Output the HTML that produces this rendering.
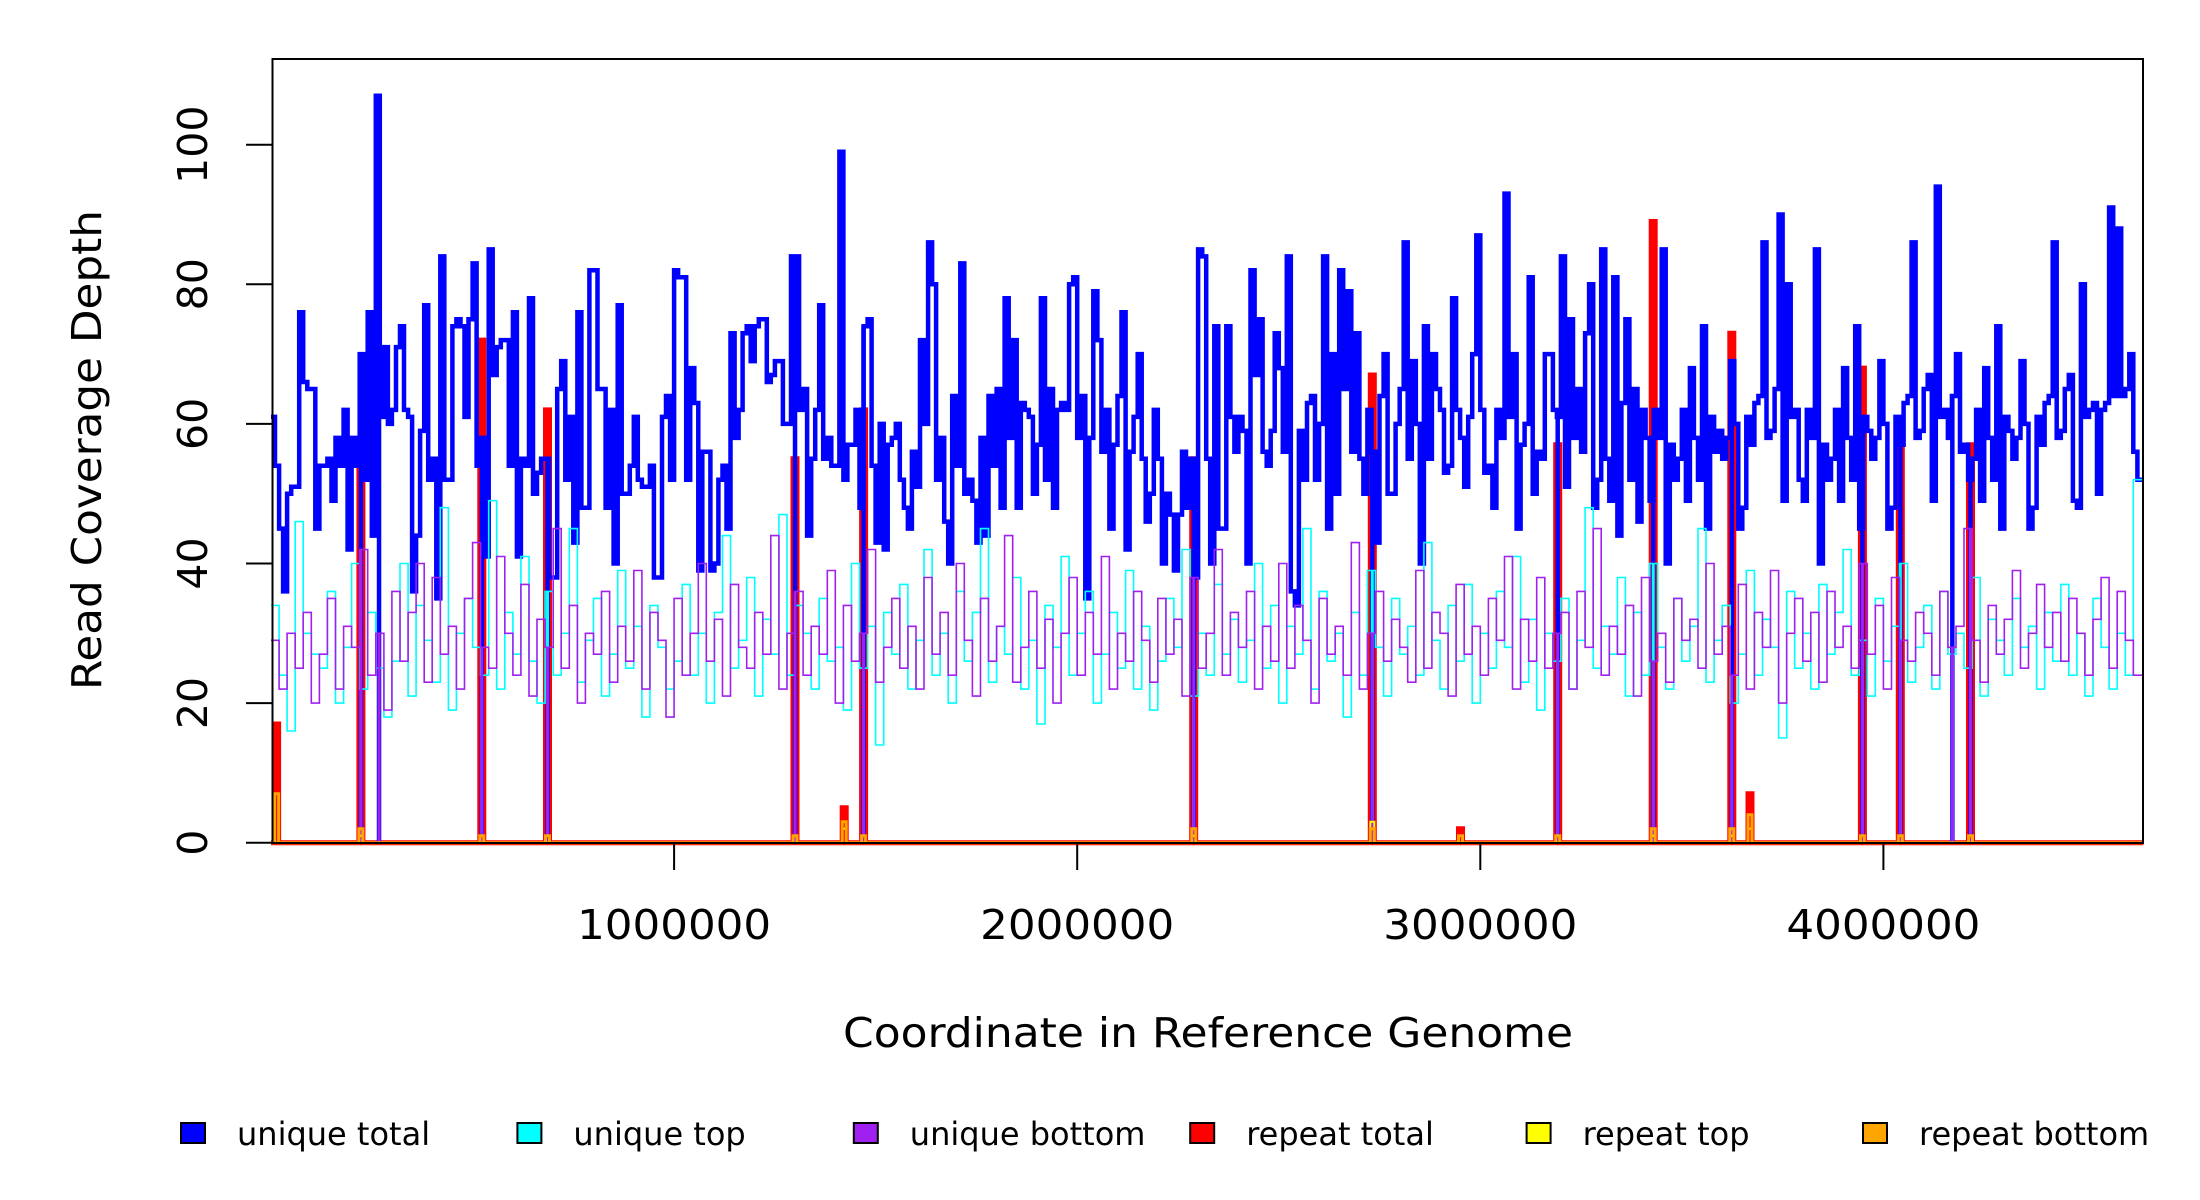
<!DOCTYPE html>
<html><head><meta charset="utf-8"><style>
html,body{margin:0;padding:0;background:#fff}
svg{display:block;font-family:"DejaVu Sans","Liberation Sans",sans-serif}
</style></head><body>
<svg id="chart" width="2200" height="1200" viewBox="0 0 2200 1200" xmlns="http://www.w3.org/2000/svg">
<rect x="0" y="0" width="2200" height="1200" fill="#fff"/>
<g id="series"></g>
<rect x="272.5" y="59" width="1870.5" height="784" fill="none" stroke="#000" stroke-width="2"/>
<g id="axes"></g>
<text transform="translate(101,450) rotate(-90)" text-anchor="middle" font-size="41" textLength="480" lengthAdjust="spacingAndGlyphs">Read Coverage Depth</text>
<text x="1208" y="1047" text-anchor="middle" font-size="41" textLength="730" lengthAdjust="spacingAndGlyphs">Coordinate in Reference Genome</text>
<g id="legend"></g>
</svg>
<script>
const NS="http://www.w3.org/2000/svg";
const totalBin=10000;
const strandBin=20000;
const genomeLen=4645000;
const uniqueTotal=[61,54,45,36,50,51,51,76,66,65,65,45,54,54,55,49,58,54,62,42,
58,54,70,52,76,44,107,61,71,60,62,71,74,62,61,36,44,59,77,52,
55,35,84,52,52,74,75,74,61,75,83,54,58,41,85,67,71,72,72,54,
76,41,55,54,78,50,53,55,55,38,38,65,69,52,61,43,76,48,48,82,
82,65,65,48,62,40,77,50,50,54,61,52,51,51,54,38,38,61,64,52,
82,81,81,52,68,63,39,56,56,39,40,52,54,45,73,58,62,73,74,69,
74,75,75,66,67,69,69,60,60,84,84,62,65,44,55,62,77,55,58,54,
54,99,52,57,57,62,48,74,75,54,43,60,42,57,58,60,52,48,45,56,
51,72,60,86,80,52,58,46,40,64,54,83,50,52,49,43,58,44,64,54,
65,48,78,58,72,48,63,62,61,50,57,78,52,65,48,62,63,62,80,81,
58,64,35,58,79,72,56,62,45,57,64,76,42,56,61,70,55,46,50,62,
55,40,50,47,39,47,56,48,55,38,85,84,55,40,74,45,45,74,61,56,
61,59,40,82,67,75,56,54,59,73,68,56,84,36,34,59,52,63,64,52,
60,84,45,70,50,82,65,79,56,73,55,50,62,56,43,64,70,50,50,60,
65,86,55,69,60,40,74,55,70,65,62,53,54,78,62,58,51,61,70,87,
62,53,54,48,62,58,93,61,70,45,57,60,81,50,56,55,70,70,62,61,
84,51,75,58,65,56,73,80,48,52,85,55,49,81,44,63,75,52,65,46,
62,58,49,62,58,85,40,57,52,55,62,49,68,58,52,74,45,61,56,59,
55,58,69,60,45,48,61,57,63,64,86,58,59,65,90,49,80,61,62,52,
49,62,58,85,40,57,52,55,62,49,68,58,52,74,45,61,59,55,58,69,
60,45,48,61,57,63,64,86,58,59,65,67,49,94,61,62,58,64,70,56,
57,52,55,62,49,68,58,52,74,45,61,59,55,58,69,60,45,48,61,57,
63,64,86,58,59,65,67,49,48,80,61,62,63,50,62,63,91,64,88,64,
65,70,56,52];
const uniqueTop=[34,24,16,46,30,27,25,36,20,28,40,22,33,25,18,26,40,21,34,29,
23,48,19,30,35,28,24,49,22,33,27,41,26,20,36,24,30,45,23,29,
35,21,27,39,25,31,18,34,28,22,26,37,24,30,20,33,44,25,29,38,
21,32,27,47,24,34,30,22,35,26,28,19,40,25,31,14,33,27,37,22,
29,42,24,30,20,36,26,33,45,23,31,27,38,22,29,17,34,28,41,24,
30,36,20,27,33,25,39,22,31,19,26,35,28,42,21,30,24,37,27,32,
23,29,40,25,34,20,31,27,45,22,36,26,30,18,33,24,39,28,21,35,
27,31,24,43,29,22,34,26,37,20,30,25,36,28,41,23,32,19,30,26,
35,22,29,48,25,31,27,38,21,33,24,40,28,22,35,26,31,45,23,29,
34,20,27,39,24,32,28,15,36,25,30,22,37,27,33,42,24,29,21,35,
26,31,40,23,28,34,22,36,27,30,25,38,21,32,29,24,35,28,31,22,
33,26,37,24,30,21,35,28,22,30,24,52];
const uniqueBottom=[29,22,30,25,33,20,27,35,22,31,28,42,24,30,19,36,26,33,40,23,
38,27,31,22,35,43,28,25,41,30,24,37,21,32,28,45,25,34,20,30,
27,36,23,31,26,39,22,33,29,18,35,24,30,40,26,32,21,37,28,25,
33,27,44,22,30,36,24,31,27,39,20,34,26,30,42,23,28,35,25,31,
22,38,27,33,24,40,29,21,35,26,31,44,23,28,36,25,32,20,30,38,
24,33,27,41,22,30,26,36,29,23,35,27,32,21,38,25,30,42,24,33,
28,36,22,31,26,40,25,34,29,20,35,27,31,24,43,22,30,36,26,32,
28,23,39,25,33,30,21,37,27,31,24,35,29,41,22,32,26,38,25,30,
33,22,36,28,45,24,31,27,34,21,38,26,30,23,35,29,32,25,40,27,
31,24,37,22,33,28,39,20,30,35,26,33,23,36,28,31,25,40,27,34,
22,38,29,26,33,30,24,36,28,31,45,29,23,34,27,32,39,25,30,37,
28,33,26,35,30,24,32,38,25,36,29,24];
const gapPositions=[223000,268000,523000,686000,1300000,1470000,2289000,2732000,3192000,3429000,3624000,3948000,4042000,4171000,4216000];
const repeatPositions=[14000,223000,523000,686000,1300000,1422000,1470000,2289000,2732000,2951000,3192000,3429000,3624000,3669000,3948000,4042000,4216000];
const repeatTotal=[17,54,72,62,55,5,62,55,67,2,57,89,73,7,68,60,57];
const repeatTop=[0,1,0,0,1,2,0,1,3,0,0,1,1,2,0,0,0];
const repeatBottom=[7,2,1,1,1,3,1,2,2,1,1,2,2,4,1,1,1];
const yTicks=[0,20,40,60,80,100];
const xTicks=[1000000,2000000,3000000,4000000];
const legendLabels=["unique total","unique top","unique bottom","repeat total","repeat top","repeat bottom"];
const legendColors=["#0000ff","#00ffff","#a020f0","#ff0000","#ffff00","#ffa500"];

const X=v=>271+v*403.1/1e6;
const Y=v=>842.7-v*6.98;
const g=document.getElementById('series');
function mk(tag,attrs,parent){const e=document.createElementNS(NS,tag);for(const k in attrs)e.setAttribute(k,attrs[k]);parent.appendChild(e);return e;}
function stepPath(vals,bin){
  let d="M"+X(0)+","+Y(vals[0]);
  for(let i=0;i<vals.length;i++){
    const end=(i===vals.length-1)?genomeLen:Math.min((i+1)*bin,genomeLen);
    d+="H"+X(end).toFixed(1);
    if(i+1<vals.length)d+="V"+Y(vals[i+1]).toFixed(1);
  }
  return d;
}
function drawSeries(vals,bin,color,w,name){
  const p=mk('path',{d:stepPath(vals,bin),fill:'none',stroke:color,'stroke-width':w},g);
  
  
  gapPositions.forEach(pos=>{
    const i=Math.min(Math.floor(pos/bin),vals.length-1);
    const l=mk('line',{x1:X(pos),x2:X(pos),y1:Y(vals[i]),y2:Y(0),stroke:color,'stroke-width':Math.max(w,3)},g);
    
    
  });
}
function drawRepeat(vals,color,w,name){
  let d="M"+X(0)+","+Y(0);
  repeatPositions.forEach((pos,i)=>{
    if(vals[i]<=0)return;
    const xa=X(pos)-2,xb=X(pos)+2;
    d+="H"+xa.toFixed(1)+"V"+Y(vals[i]).toFixed(1)+"H"+xb.toFixed(1)+"V"+Y(0);
  });
  d+="H"+X(genomeLen);
  const p=mk('path',{d:d,fill:'none',stroke:color,'stroke-width':w},g);
  
  
}
drawRepeat(repeatTotal,'#ff0000',5,'repeat-total-line');
drawSeries(uniqueTotal,totalBin,'#0000ff',4.5,'unique-total-line');
drawSeries(uniqueTop,strandBin,'#00ffff',1.6,'unique-top-line');
drawSeries(uniqueBottom,strandBin,'#a020f0',1.6,'unique-bottom-line');
drawRepeat(repeatTop,'#ffff00',2,'repeat-top-line');
drawRepeat(repeatBottom,'#ffa500',3,'repeat-bottom-line');

const ax=document.getElementById('axes');
yTicks.forEach(t=>{
  const l=mk('line',{x1:246,x2:272.5,y1:Y(t),y2:Y(t),stroke:'#000','stroke-width':2},ax);
  
  
  const tx=mk('text',{transform:`translate(207,${Y(t)}) rotate(-90)`,'text-anchor':'middle','font-size':41},ax);
  tx.textContent=t;
  
  
});
xTicks.forEach(t=>{
  const l=mk('line',{x1:X(t),x2:X(t),y1:843,y2:870,stroke:'#000','stroke-width':2},ax);
  
  
  const tx=mk('text',{x:X(t),y:939,'text-anchor':'middle','font-size':41,textLength:194,lengthAdjust:'spacingAndGlyphs'},ax);
  tx.textContent=t;
  
  
});
const lg=document.getElementById('legend');
legendLabels.forEach((lab,i)=>{
  const cx=193+i*336.4;
  const r=mk('rect',{x:cx-12,y:1123,width:24,height:20,fill:legendColors[i],stroke:'#000','stroke-width':2},lg);
  
  
  const tx=mk('text',{x:cx+44,y:1145,'font-size':32},lg);
  tx.textContent=lab;
  
  
});
</script>
</body></html>
